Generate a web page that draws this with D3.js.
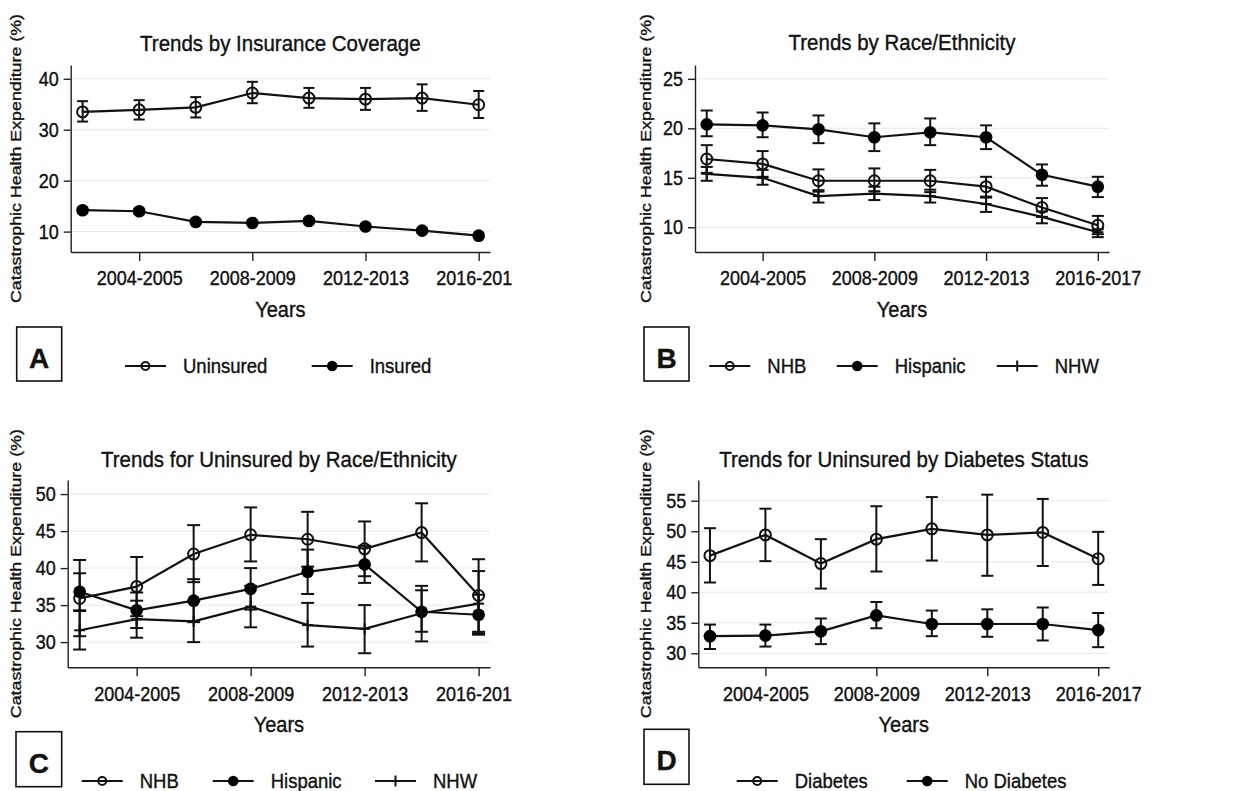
<!DOCTYPE html>
<html>
<head>
<meta charset="utf-8">
<script src="https://cdn.jsdelivr.net/npm/d3@7/dist/d3.min.js"></script>
<style>
  body { margin: 0; background: #fff; }
  svg { display: block; font-family: "Liberation Sans", Arial, Helvetica, sans-serif; }
  text { fill: #111; stroke: #111; stroke-width: 0.35px; }
  .grid line { stroke: #e9e9e9; stroke-width: 1; }
  .axis path, .axis line { stroke: #222; stroke-width: 1.4; }
  .axis text { font-size: 18px; }
</style>
</head>
<body>
<svg id="chart" width="1253" height="791" viewBox="0 0 1253 791"></svg>
<script>
// survey periods (two-year pools)
const periods = ["2002-2003","2004-2005","2006-2007","2008-2009","2010-2011","2012-2013","2014-2015","2016-2017"]
const labelledPeriods = [1, 3, 5, 7]

// A: by insurance coverage
const uninsured   = [33.5, 33.9, 34.4, 37.2, 36.2, 36.0, 36.2, 34.9]
const uninsuredLo = [31.6, 32.0, 32.4, 35.2, 34.3, 33.9, 33.7, 32.3]
const uninsuredHi = [35.6, 35.8, 36.4, 39.4, 38.2, 38.2, 38.9, 37.6]
const insured     = [14.2, 14.0, 11.9, 11.7, 12.1, 11.0, 10.2, 9.2]
const insuredLo   = [13.7, 13.5, 11.5, 11.3, 11.6, 10.6, 9.8, 8.8]
const insuredHi   = [14.7, 14.5, 12.4, 12.2, 12.6, 11.4, 10.6, 9.6]

// B: by race/ethnicity
const nhbB    = [16.9, 16.4, 14.7, 14.7, 14.7, 14.1, 12.0, 10.2]
const nhbBLo  = [15.5, 15.1, 13.6, 13.65, 13.55, 13.0, 11.05, 9.3]
const nhbBHi  = [18.3, 17.7, 15.85, 15.95, 15.8, 15.1, 12.95, 11.15]
const hispB   = [20.4, 20.3, 19.9, 19.1, 19.6, 19.1, 15.3, 14.1]
const hispBLo = [19.2, 19.1, 18.5, 17.7, 18.3, 17.9, 14.2, 13.05]
const hispBHi = [21.8, 21.6, 21.3, 20.5, 21.0, 20.3, 16.35, 15.1]
const nhwB    = [15.4, 15.0, 13.15, 13.4, 13.15, 12.35, 11.05, 9.5]
const nhwBLo  = [14.7, 14.3, 12.5, 12.75, 12.5, 11.55, 10.4, 9.0]
const nhwBHi  = [16.1, 15.8, 13.75, 14.1, 13.8, 13.1, 11.6, 9.8]

// C: uninsured by race/ethnicity
const nhbC    = [35.9, 37.5, 41.9, 44.5, 43.9, 42.6, 44.8, 36.3]
const nhbCLo  = [30.8, 33.5, 38.1, 40.9, 40.2, 38.9, 40.9, 31.4]
const nhbCHi  = [41.1, 41.5, 45.8, 48.2, 47.6, 46.3, 48.75, 41.2]
const hispC   = [36.8, 34.3, 35.6, 37.2, 39.5, 40.5, 34.1, 33.7]
const hispCLo = [34.3, 31.9, 32.7, 34.4, 36.5, 38.0, 30.1, 31.0]
const hispCHi = [39.3, 36.7, 38.5, 40.0, 42.5, 43.0, 37.6, 36.4]
const nhwC    = [31.6, 33.1, 32.8, 34.8, 32.3, 31.8, 33.9, 35.2]
const nhwCLo  = [29.0, 30.6, 30.0, 32.0, 29.4, 28.5, 31.4, 31.2]
const nhwCHi  = [34.2, 35.6, 35.6, 37.6, 35.3, 35.0, 37.0, 39.6]

// D: uninsured by diabetes status
const diab      = [46.0, 49.4, 44.7, 48.7, 50.4, 49.4, 49.8, 45.5]
const diabLo    = [41.6, 45.1, 40.6, 43.4, 45.2, 42.7, 44.3, 41.2]
const diabHi    = [50.5, 53.7, 48.7, 54.1, 55.6, 56.0, 55.3, 49.9]
const noDiab    = [32.8, 32.9, 33.6, 36.2, 34.8, 34.8, 34.8, 33.8]
const noDiabLo  = [30.7, 31.1, 31.5, 34.1, 32.8, 32.7, 32.1, 31.0]
const noDiabHi  = [34.7, 34.7, 35.7, 38.4, 37.0, 37.2, 37.5, 36.6]

const panels = [
  {id:"A", title:"Trends by Insurance Coverage", x0:70.7, x1:490, top:65, bottom:252,
   yDomain:[6, 42.7], yTicks:[10,20,30,40], titleY:51, yTitleX:15, clip:[0,512], cap:11,
   box:{x:16.7, y:327, w:45, h:54}, legendY:366, legendX:[125, 311.7],
   series:[{name:"Uninsured", mark:"hollow", v:uninsured, lo:uninsuredLo, hi:uninsuredHi},
           {name:"Insured", mark:"filled", v:insured, lo:insuredLo, hi:insuredHi}]},
  {id:"B", title:"Trends by Race/Ethnicity", x0:695, x1:1109, top:65, bottom:252,
   yDomain:[7.5, 26.4], yTicks:[10,15,20,25], titleY:50, yTitleX:645, clip:[620,1253], cap:12,
   box:{x:644, y:327, w:45, h:54}, legendY:366, legendX:[709.3, 836.7, 996.7],
   series:[{name:"NHB", mark:"hollow", v:nhbB, lo:nhbBLo, hi:nhbBHi},
           {name:"Hispanic", mark:"filled", v:hispB, lo:hispBLo, hi:hispBHi},
           {name:"NHW", mark:"plus", v:nhwB, lo:nhwBLo, hi:nhwBHi}]},
  {id:"C", title:"Trends for Uninsured by Race/Ethnicity", x0:67.7, x1:490, top:480, bottom:667.3,
   yDomain:[26.6, 51.9], yTicks:[30,35,40,45,50], titleY:467, yTitleX:15, clip:[0,512], cap:13,
   box:{x:16, y:731.7, w:45.7, h:55}, legendY:781, legendX:[81.7, 212.7, 375],
   series:[{name:"NHB", mark:"hollow", v:nhbC, lo:nhbCLo, hi:nhbCHi},
           {name:"Hispanic", mark:"filled", v:hispC, lo:hispCLo, hi:hispCHi},
           {name:"NHW", mark:"plus", v:nhwC, lo:nhwCLo, hi:nhwCHi}]},
  {id:"D", title:"Trends for Uninsured by Diabetes Status", x0:698.3, x1:1109.3, top:480, bottom:667.3,
   yDomain:[27.7, 58.4], yTicks:[30,35,40,45,50,55], titleY:467, yTitleX:645, clip:[620,1253], cap:12,
   box:{x:644, y:729.3, w:45, h:55}, legendY:781, legendX:[736.7, 906.7],
   series:[{name:"Diabetes", mark:"hollow", v:diab, lo:diabLo, hi:diabHi},
           {name:"No Diabetes", mark:"filled", v:noDiab, lo:noDiabLo, hi:noDiabHi}]}
]

const svg = d3.select("#chart")
const defs = svg.append("defs")
const stretch = 1.12   // the source figure's lettering is a little taller than wide

function drawMarker(g, kind, cx, cy, size) {
    if (kind === "hollow") {
        g.append("circle").attr("cx", cx).attr("cy", cy).attr("r", size)
            .attr("fill", "none").attr("stroke", "#111").attr("stroke-width", 2)
    } else if (kind === "filled") {
        g.append("circle").attr("cx", cx).attr("cy", cy).attr("r", size * 1.15)
            .attr("fill", "#000")
    } else {
        g.append("line").attr("x1", cx - size).attr("x2", cx + size).attr("y1", cy).attr("y2", cy)
            .attr("stroke", "#111").attr("stroke-width", 2)
        g.append("line").attr("x1", cx).attr("x2", cx).attr("y1", cy - size).attr("y2", cy + size)
            .attr("stroke", "#111").attr("stroke-width", 2)
    }
}

function label(g, x, y, txt, size, anchor) {
    return g.append("text")
        .attr("transform", `translate(${x},${y}) scale(1,${stretch})`)
        .attr("text-anchor", anchor || "middle")
        .style("font-size", size + "px")
        .text(txt)
}

panels.forEach(p => {
    defs.append("clipPath").attr("id", "clip" + p.id)
        .append("rect").attr("x", p.clip[0]).attr("y", 0)
        .attr("width", p.clip[1] - p.clip[0]).attr("height", 791)

    const g = svg.append("g").attr("clip-path", `url(#clip${p.id})`)

    const x = d3.scaleLinear().domain([-0.21, 7.2]).range([p.x0, p.x1])
    const y = d3.scaleLinear().domain(p.yDomain).range([p.bottom, p.top])
    const midX = (p.x0 + p.x1) / 2

    // gridlines
    g.append("g").attr("class", "grid")
        .selectAll("line").data(p.yTicks).enter().append("line")
        .attr("x1", p.x0).attr("x2", p.x1)
        .attr("y1", d => y(d)).attr("y2", d => y(d))

    // axes
    const yAxis = g.append("g").attr("class", "axis")
        .attr("transform", `translate(${p.x0},0)`)
        .call(d3.axisLeft(y).tickValues(p.yTicks).tickSize(7).tickSizeOuter(0).tickPadding(5))
    const xAxis = g.append("g").attr("class", "axis")
        .attr("transform", `translate(0,${p.bottom})`)
        .call(d3.axisBottom(x).tickValues(labelledPeriods).tickFormat(i => periods[i])
            .tickSize(9).tickSizeOuter(0).tickPadding(9))
    yAxis.selectAll(".tick text").attr("transform", `scale(1,${stretch})`)
    xAxis.selectAll(".tick text").attr("transform", `translate(0,-1) scale(1,${stretch})`)

    // titles
    label(g, midX, p.titleY, p.title, 20.5)
    label(g, midX, p.bottom + 65, "Years", 20)
    g.append("text")
        .attr("transform", `translate(${p.yTitleX},${(p.top + p.bottom) / 2}) rotate(-90)`)
        .attr("text-anchor", "middle").attr("dominant-baseline", "central")
        .style("font-size", "15.5px")
        .attr("textLength", 289).attr("lengthAdjust", "spacingAndGlyphs")
        .text("Catastrophic Health Expenditure (%)")

    // series: error bars, connecting line, markers
    const line = d3.line().x((d, i) => x(i)).y(d => y(d))
    p.series.forEach(s => {
        const sg = g.append("g")
        s.v.forEach((v, i) => {
            const cx = x(i)
            sg.append("line").attr("x1", cx).attr("x2", cx)
                .attr("y1", y(s.lo[i])).attr("y2", y(s.hi[i]))
                .attr("stroke", "#111").attr("stroke-width", 2)
            ;[s.lo[i], s.hi[i]].forEach(e => {
                sg.append("line").attr("x1", cx - p.cap / 2).attr("x2", cx + p.cap / 2)
                    .attr("y1", y(e)).attr("y2", y(e))
                    .attr("stroke", "#111").attr("stroke-width", 2)
            })
        })
        sg.append("path").datum(s.v).attr("d", line)
            .attr("fill", "none").attr("stroke", "#111").attr("stroke-width", 2.2)
        s.v.forEach((v, i) => drawMarker(sg, s.mark, x(i), y(v), 5.5))
    })

    // panel letter box
    g.append("rect").attr("x", p.box.x).attr("y", p.box.y)
        .attr("width", p.box.w).attr("height", p.box.h)
        .attr("fill", "#fff").attr("stroke", "#111").attr("stroke-width", 1.6)
    g.append("text").attr("x", p.box.x + p.box.w / 2).attr("y", p.box.y + 41)
        .attr("text-anchor", "middle").style("font-size", "28px").style("font-weight", "bold")
        .text(p.id)

    // legend
    p.series.forEach((s, k) => {
        const lx = p.legendX[k]
        const lg = g.append("g")
        lg.append("line").attr("x1", lx).attr("x2", lx + 41)
            .attr("y1", p.legendY).attr("y2", p.legendY)
            .attr("stroke", "#111").attr("stroke-width", 2)
        drawMarker(lg, s.mark, lx + 20.5, p.legendY, s.mark === "filled" ? 4.6 : (s.mark === "plus" ? 5.5 : 4))
        label(lg, lx + 58, p.legendY + 7, s.name, 18.5, "start")
    })
})
</script>
</body>
</html>
